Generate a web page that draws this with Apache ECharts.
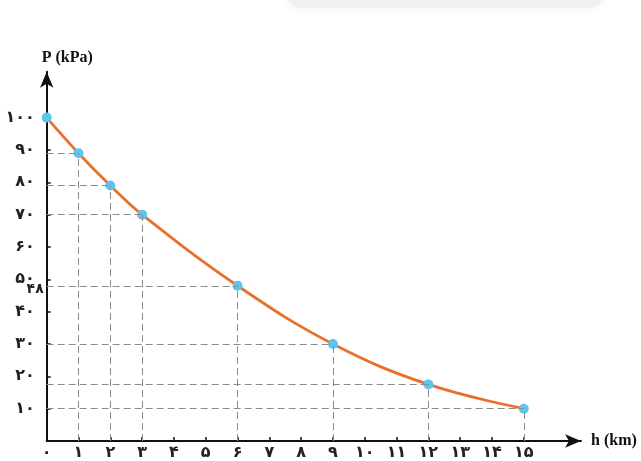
<!DOCTYPE html>
<html>
<head>
<meta charset="utf-8">
<script src="https://cdn.jsdelivr.net/npm/echarts@6/dist/echarts.min.js"></script>
<style>
html,body{margin:0;padding:0;background:#fff;}
#c{width:641px;height:461px;}
</style>
</head>
<body>
<div id="c"></div>
<script>
// Data
const heights = [0, 1, 2, 3, 6, 9, 12, 15];          // h (km)
const pressures = [100, 89, 79, 70, 48, 30, 17.5, 10]; // P (kPa)
const xTicks = [0,1,2,3,4,5,6,7,8,9,10,11,12,13,14,15];
const yTicks = [10,20,30,40,50,60,70,80,90,100];
const markedY = [48];
const xName = 'h (km)';
const yName = 'P (kPa)';

const fa = n => String(n).replace(/\d/g, d => '۰۱۲۳۴۵۶۷۸۹'[d]);

const pts = heights.map((h, i) => [h, pressures[i]]);
const guides = [];
pts.forEach(([h, p]) => {
  if (h > 0) {
    guides.push([{coord: [0, p]}, {coord: [h, p]}]);
    guides.push([{coord: [h, 0]}, {coord: [h, p]}]);
  }
});

const chart = echarts.init(document.getElementById('c'));
const axisFont = {fontFamily: 'DejaVu Sans', fontSize: 16, fontWeight: 'bold', color: '#222'};
const nameFont = {fontFamily: 'Liberation Serif', fontWeight: 'bold', fontSize: 16, color: '#111'};

chart.setOption({
  animation: false,
  backgroundColor: '#fff',
  graphic: [{
    type: 'rect',
    shape: {x: 285, y: -30, width: 320, height: 38, r: 18},
    style: {fill: '#f0f0f0', shadowBlur: 10, shadowColor: '#f0f0f0'},
    silent: true
  }],
  grid: {left: 46.7, right: 60, top: 71.7, bottom: 18.3, containLabel: false},
  xAxis: {
    type: 'value', min: 0, max: 16.8,
    name: xName, nameLocation: 'end', nameGap: 10,
    nameTextStyle: Object.assign({verticalAlign: 'middle', align: 'left'}, nameFont),
    axisLine: {show: true, lineStyle: {color: '#111', width: 2}, symbol: ['none', 'arrow'], symbolSize: [10, 16]},
    axisTick: {show: true, inside: true, length: 4, lineStyle: {color: '#111', width: 1.5}, customValues: xTicks},
    axisLabel: Object.assign({margin: 4, customValues: xTicks, formatter: v => fa(v)}, axisFont),
    splitLine: {show: false}
  },
  yAxis: [{
    type: 'value', min: 0, max: 114.2,
    name: yName, nameLocation: 'end', nameGap: 6,
    nameTextStyle: Object.assign({align: 'left', padding: [0, 0, 0, -5]}, nameFont),
    axisLine: {show: true, lineStyle: {color: '#111', width: 2}, symbol: ['none', 'arrow'], symbolSize: [10, 16]},
    axisTick: {show: true, inside: true, length: 4, lineStyle: {color: '#111', width: 1.5}, customValues: yTicks},
    axisLabel: Object.assign({margin: 12, customValues: yTicks, formatter: v => fa(v)}, axisFont),
    splitLine: {show: false}
  }, {
    type: 'value', min: 0, max: 114.2, position: 'left',
    axisLine: {show: false}, axisTick: {show: false}, splitLine: {show: false},
    axisLabel: Object.assign({margin: 3, customValues: markedY, formatter: v => fa(v)}, axisFont, {fontSize: 14, verticalAlign: 'top', padding: [-3, 0, 0, 0]})
  }],
  series: [{
    type: 'line',
    data: pts,
    symbol: 'none',
    lineStyle: {opacity: 0},
    silent: true,
    z: 1,
    markLine: {
      silent: true,
      symbol: 'none',
      label: {show: false},
      lineStyle: {type: [7, 4], color: '#8c8c8c', width: 1},
      data: guides
    }
  }, {
    type: 'line',
    data: pts,
    smooth: 0.4,
    symbol: 'circle',
    symbolSize: 10,
    itemStyle: {color: '#5CC6EE', borderWidth: 0},
    lineStyle: {color: '#E8702A', width: 2.8},
    z: 3
  }]
});
</script>
</body>
</html>
